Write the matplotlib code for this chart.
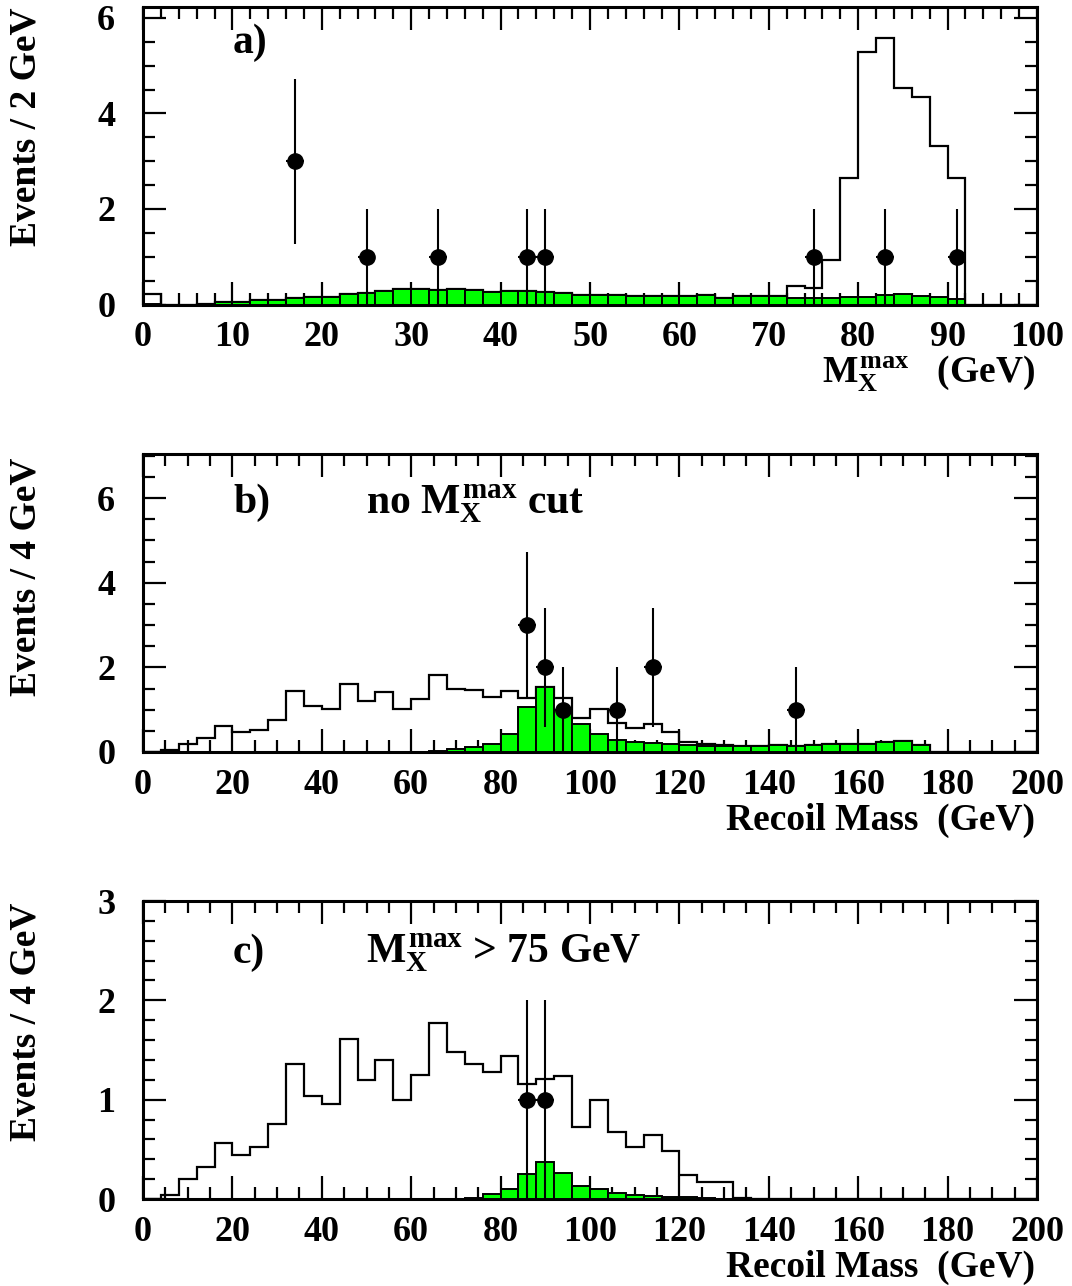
import numpy as np
import matplotlib
matplotlib.use("Agg")
from matplotlib import pyplot as plt
from matplotlib.ticker import MultipleLocator

plt.rcParams['font.family'] = ['Liberation Serif', 'DejaVu Serif']
plt.rcParams['font.weight'] = 'bold'
plt.rcParams['mathtext.fontset'] = 'custom'
plt.rcParams['mathtext.rm'] = 'Liberation Serif:bold'
plt.rcParams['mathtext.it'] = 'Liberation Serif:bold'
plt.rcParams['mathtext.bf'] = 'Liberation Serif:bold'

# ---------------------------------------------------------------
# panel a) : M_X^max, 2 GeV bins from 0 to 100
edges_a = np.arange(0, 101, 2)
bg_a = [0.02, 0.0, 0.0, 0.02, 0.045, 0.055, 0.085, 0.095, 0.14, 0.165,
        0.165, 0.22, 0.245, 0.285, 0.33, 0.33, 0.31, 0.33, 0.31, 0.27,
        0.29, 0.29, 0.26, 0.24, 0.2, 0.2, 0.2, 0.17, 0.17, 0.17,
        0.17, 0.19, 0.14, 0.17, 0.17, 0.17, 0.14, 0.14, 0.14, 0.15,
        0.15, 0.19, 0.22, 0.17, 0.15, 0.12, 0, 0, 0, 0]
tot_a = [0.21, 0.0, 0.0, 0.02, 0.045, 0.055, 0.085, 0.095, 0.14, 0.165,
         0.165, 0.22, 0.245, 0.285, 0.33, 0.33, 0.31, 0.33, 0.31, 0.27,
         0.29, 0.29, 0.26, 0.24, 0.2, 0.2, 0.2, 0.17, 0.17, 0.17,
         0.17, 0.19, 0.14, 0.17, 0.17, 0.17, 0.38, 0.34, 0.94, 2.64,
         5.29, 5.58, 4.54, 4.34, 3.32, 2.64, 0, 0, 0, 0]
x_a = [17, 25, 33, 43, 45, 75, 83, 91]
y_a = [3, 1, 1, 1, 1, 1, 1, 1]
err_a = [1.73, 1, 1, 1, 1, 1, 1, 1]

# panel b) : recoil mass, no cut, 4 GeV bins from 0 to 200
edges_b = np.arange(0, 201, 4)
bg_b = [0]*16 + [0.015, 0.07, 0.11, 0.2, 0.43, 1.06, 1.53, 1.0, 0.66, 0.43,
                 0.28, 0.24, 0.22, 0.19, 0.17, 0.15, 0.15, 0.13, 0.13, 0.16,
                 0.14, 0.16, 0.2, 0.18, 0.2, 0.23, 0.25, 0.17] + [0]*6
tot_b = [0, 0.055, 0.2, 0.33, 0.61, 0.47, 0.52, 0.76, 1.45, 1.08,
         1.01, 1.61, 1.2, 1.41, 1.01, 1.26, 1.83, 1.5, 1.46, 1.31,
         1.45, 1.27, 1.53, 1.27, 0.81, 1.01, 0.69, 0.56, 0.65, 0.48,
         0.24, 0.2, 0.17, 0.15, 0.15, 0.16, 0.14, 0.16, 0.2, 0.18,
         0.2, 0.23, 0.25, 0.17, 0, 0, 0, 0, 0, 0]
x_b = [86, 90, 94, 106, 114, 146]
y_b = [3, 2, 1, 1, 2, 1]
err_b = [1.73, 1.41, 1, 1, 1.41, 1]

# panel c) : recoil mass with M_X^max > 75 GeV
edges_c = np.arange(0, 201, 4)
bg_c = [0]*15 + [0.003, 0.005, 0.005, 0.01, 0.05, 0.1, 0.25, 0.37, 0.26, 0.13,
                 0.1, 0.06, 0.04, 0.03, 0.025, 0.02, 0.01, 0.0] + [0]*17
tot_c = [0.0, 0.04, 0.2, 0.32, 0.56, 0.44, 0.52, 0.76, 1.36, 1.04,
         0.96, 1.61, 1.2, 1.4, 1.0, 1.25, 1.77, 1.48, 1.36, 1.28,
         1.44, 1.16, 1.21, 1.24, 0.72, 1.0, 0.67, 0.52, 0.64, 0.48,
         0.24, 0.17, 0.17, 0.01] + [0]*16
x_c = [86, 90]
y_c = [1, 1]
err_c = [1, 1]

# ---------------------------------------------------------------
W, H = 1072, 1286
fig = plt.figure(figsize=(W/100, H/100), dpi=100)

def panel(top_px, bottom_px, edges, bg, tot, xd, yd, errd, ymax, xmaj, xmin, ymaj, ymin):
    ax = fig.add_axes([143/W, 1-bottom_px/H, (1037-143)/W, (bottom_px-top_px)/H])
    ax.stairs(tot, edges, color='black', lw=1.6, zorder=2)
    w = edges[1]-edges[0]
    ax.bar(edges[:-1], bg, width=w, align='edge', color='#00ff00',
           edgecolor='black', lw=1.4, zorder=3)
    ax.errorbar(xd, yd, yerr=errd, xerr=w/2, fmt='o', color='black', ms=11,
                elinewidth=1.5, capsize=0, zorder=5)
    ax.set_xlim(edges[0], edges[-1])
    ax.set_ylim(0, ymax)
    ax.xaxis.set_major_locator(MultipleLocator(xmaj))
    ax.xaxis.set_minor_locator(MultipleLocator(xmin))
    ax.yaxis.set_major_locator(MultipleLocator(ymaj))
    ax.yaxis.set_minor_locator(MultipleLocator(ymin))
    ax.tick_params(which='both', direction='in', top=True, right=True, width=1.6)
    ax.tick_params(which='major', length=16.5)
    ax.tick_params(which='minor', length=8.5)
    ax.tick_params(axis='x', pad=12, labelsize=26)
    ax.tick_params(axis='y', pad=20, labelsize=26)
    for lab in ax.get_xticklabels() + ax.get_yticklabels():
        lab.set_fontweight('bold')
    for s in ax.spines.values():
        s.set_linewidth(2.2)
    return ax

ax1 = panel(7, 304.5, edges_a, bg_a, tot_a, x_a, y_a, err_a, 6.23, 10, 2, 2, 0.5)
ax2 = panel(454, 752, edges_b, bg_b, tot_b, x_b, y_b, err_b, 7.04, 20, 5, 2, 0.5)
ax3 = panel(901, 1199, edges_c, bg_c, tot_c, x_c, y_c, err_c, 3.0, 20, 5, 1, 0.2)

# panel labels
ax1.text(0.1007, 0.845, 'a)', transform=ax1.transAxes, fontsize=30, fontweight='bold')
ax2.text(0.1007, 0.802, 'b)', transform=ax2.transAxes, fontsize=30, fontweight='bold')
ax2.text(0.250, 0.802, r'no $M_{X}^{max}$ cut', transform=ax2.transAxes, fontsize=30, fontweight='bold')
ax3.text(0.1007, 0.792, 'c)', transform=ax3.transAxes, fontsize=30, fontweight='bold')
ax3.text(0.250, 0.792, r'$M_{X}^{max}$ > 75 GeV', transform=ax3.transAxes, fontsize=30, fontweight='bold')

# axis titles
fig.text(1035/W, 1-382/H, r'$M_{X}^{max}$   (GeV)', ha='right', va='baseline', fontsize=27, fontweight='bold')
fig.text(1035/W, 1-830/H, 'Recoil Mass  (GeV)', ha='right', va='baseline', fontsize=27, fontweight='bold')
fig.text(1035/W, 1-1277/H, 'Recoil Mass  (GeV)', ha='right', va='baseline', fontsize=27, fontweight='bold')

fig.text(26/W, 1-7/H, 'Events / 2 GeV', rotation=90, ha='center', va='top', fontsize=27, fontweight='bold')
fig.text(26/W, 1-458/H, 'Events / 4 GeV', rotation=90, ha='center', va='top', fontsize=27, fontweight='bold')
fig.text(26/W, 1-903/H, 'Events / 4 GeV', rotation=90, ha='center', va='top', fontsize=27, fontweight='bold')

fig.savefig('out.png', dpi=100)
